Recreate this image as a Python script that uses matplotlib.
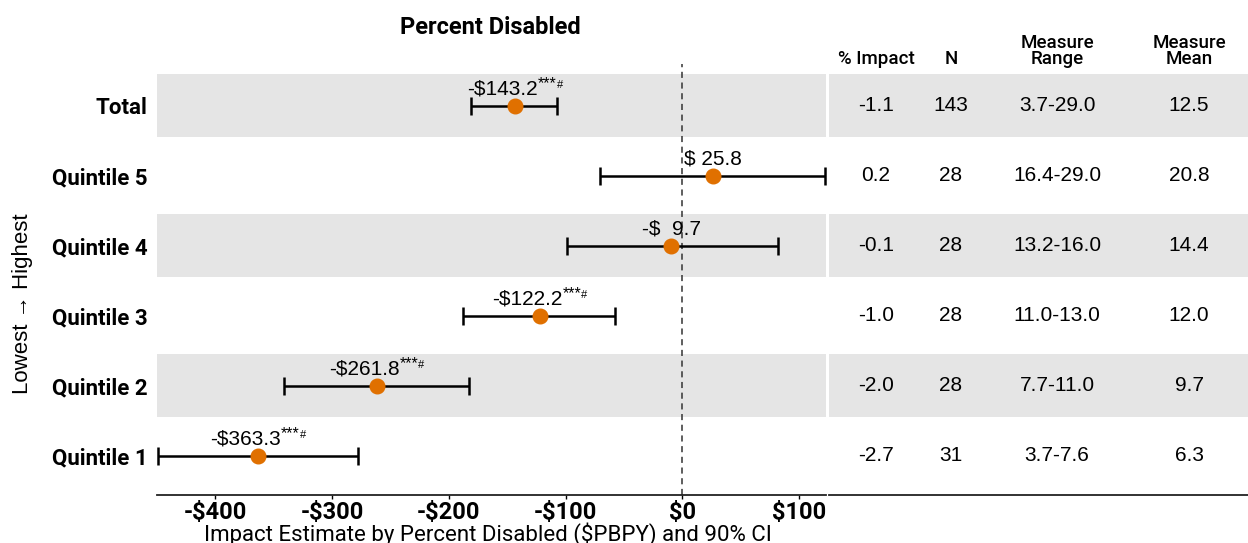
import matplotlib.pyplot as plt
import matplotlib.transforms as mtransforms

# data (bottom row first)
rows = ['Quintile 1', 'Quintile 2', 'Quintile 3', 'Quintile 4', 'Quintile 5', 'Total']
est = [-363.3, -261.8, -122.2, -9.7, 25.8, -143.2]
ci_lo = [-449.0, -341.5, -188.0, -99.0, -70.6, -181.0]
ci_hi = [-278.0, -182.6, -57.8, 81.5, 122.0, -107.4]
sig = ['***#', '***#', '***#', '', '', '***#']
pct_impact = ['-2.7', '-2.0', '-1.0', '-0.1', '0.2', '-1.1']
n_obs = ['31', '28', '28', '28', '28', '143']
measure_range = ['3.7-7.6', '7.7-11.0', '11.0-13.0', '13.2-16.0', '16.4-29.0', '3.7-29.0']
measure_mean = ['6.3', '9.7', '12.0', '14.4', '20.8', '12.5']
xticks = [-400, -300, -200, -100, 0, 100]

W, H = 1248, 543
orange = '#E07000'
band = '#E5E5E5'
sans = ['Liberation Sans', 'DejaVu Sans']

plt.rcParams['font.family'] = ['Roboto', 'DejaVu Sans']

fig = plt.figure(figsize=(W / 100, H / 100), dpi=100)

def fx(px):
    return px / W

def fy(px):
    return 1 - px / H

top_px, bot_px = 64, 495
ax = fig.add_axes([fx(157), fy(bot_px), fx(826) - fx(157), fy(top_px) - fy(bot_px)])
tab = fig.add_axes([fx(829), fy(bot_px), 1 - fx(829), fy(top_px) - fy(bot_px)])

ypos = list(range(len(rows)))
ylim = (-0.56, 5.6)

for a in (ax, tab):
    for i in ypos:
        if i % 2 == 1:
            a.axhspan(i - 0.45, i + 0.45, color=band, lw=0, zorder=0)
    a.set_ylim(*ylim)
    for s in ['top', 'right', 'left']:
        a.spines[s].set_visible(False)
    a.spines['bottom'].set_linewidth(1.3)
    a.spines['bottom'].set_color('#222222')

# forest plot
ax.axvline(0, color='#333333', lw=1.1, ls=(0, (4, 3)), zorder=1)
xerr = [[e - l for e, l in zip(est, ci_lo)], [h - e for e, h in zip(est, ci_hi)]]
ax.errorbar(est, ypos, xerr=xerr, fmt='none', ecolor='black', elinewidth=1.8,
            capsize=6.5, capthick=1.8, zorder=2)
ax.plot(est, ypos, 'o', color=orange, markersize=10.5, zorder=3)

for e, y, s in zip(est, ypos, sig):
    sign = '-' if e < 0 else ''
    label = '{}${:5.1f}'.format(sign, abs(e))
    dx = -9 if s else 0
    t = ax.annotate(label, xy=(e, y), xytext=(dx, 8), textcoords='offset points',
                    ha='center', va='baseline', fontsize=15, family=sans, zorder=4)
    if s:
        t2 = ax.annotate(s[:-1], xy=(1.0, 0.42), xycoords=t, ha='left', va='bottom',
                         fontsize=11.5, family=sans)
        ax.annotate(s[-1], xy=(1.0, 0.05), xycoords=t2, ha='left', va='bottom',
                    fontsize=8, family=sans)

ax.set_xlim(-450, 123)
ax.set_xticks(xticks)
ax.set_xticklabels(['-${}'.format(-v) if v < 0 else '${}'.format(v) for v in xticks],
                   fontsize=17, fontweight='bold')
ax.tick_params(axis='x', length=3, width=1, pad=1)
ax.set_yticks(ypos)
ax.set_yticklabels(rows, fontsize=16, fontweight='bold')
ax.tick_params(axis='y', length=0, pad=7)
ax.set_xlabel('Impact Estimate by Percent Disabled ($PBPY) and 90% CI', fontsize=16)
ax.xaxis.set_label_coords(0.495, -0.063)
ax.set_ylabel('Lowest \u2192 Highest', fontsize=16, family=sans)
ax.yaxis.set_label_coords(-0.186, 0.443)
fig.text(fx(490), fy(27), 'Percent Disabled', fontsize=17, fontweight='bold',
         ha='center', va='center')

# table
tab.set_xlim(0, 1)
tab.set_xticks([])
tab.set_yticks([])
cols = [(fx(876), pct_impact, ['% Impact']),
        (fx(951), n_obs, ['N']),
        (fx(1057), measure_range, ['Measure', 'Range']),
        (fx(1189), measure_mean, ['Measure', 'Mean'])]
trans = mtransforms.blended_transform_factory(fig.transFigure, tab.transData)
for x, vals, hdr in cols:
    for y, v in zip(ypos, vals):
        tab.text(x, y, v, transform=trans, ha='center', va='center', fontsize=15,
                 family=sans)
    base = 64 - 16 * (len(hdr) - 1)
    for k, line in enumerate(hdr):
        fig.text(x, fy(base + 16 * k), line, ha='center', va='baseline',
                 fontsize=13.5, fontweight='medium')

fig.savefig('out.png', dpi=100)
